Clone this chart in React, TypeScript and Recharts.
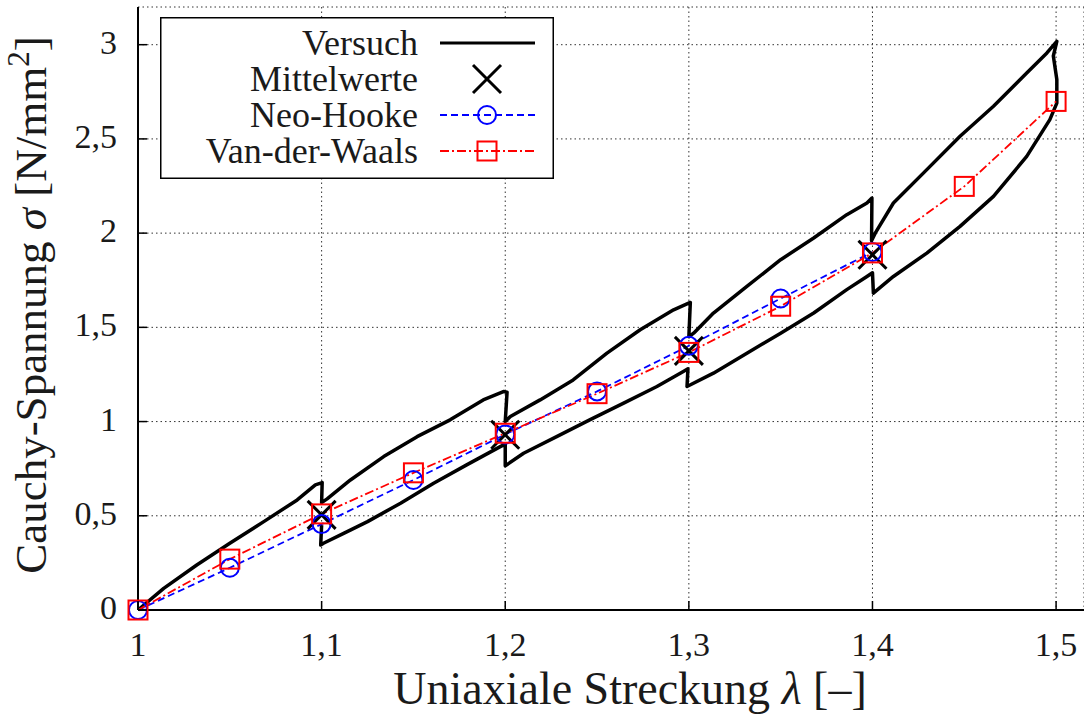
import React from 'react';
import { ComposedChart, Line, Scatter, XAxis, YAxis, CartesianGrid, Legend } from 'recharts';

// Versuch (experiment) path, in measurement order: [lambda, sigma]
const versuchPath: [number, number][] = [
  [1.0, 0.0], [1.014, 0.115], [1.032, 0.239], [1.05, 0.354], [1.0685, 0.469], [1.0867, 0.584], [1.0966, 0.664], [1.1003, 0.676],
  [1.1, 0.57], [1.103, 0.59], [1.1157, 0.69], [1.1338, 0.814], [1.152, 0.92], [1.17, 1.009], [1.188, 1.115], [1.199, 1.159], [1.201, 1.156],
  [1.2, 1.0], [1.2028, 1.027], [1.219, 1.115], [1.237, 1.221], [1.2554, 1.363], [1.2735, 1.487], [1.2917, 1.593], [1.3008, 1.632],
  [1.3, 1.45], [1.3026, 1.469], [1.3134, 1.576], [1.3316, 1.717], [1.35, 1.859], [1.368, 1.974], [1.386, 2.098], [1.397, 2.16], [1.3997, 2.186],
  [1.3995, 1.96], [1.4015, 2.0], [1.4114, 2.16], [1.4296, 2.337], [1.4477, 2.514], [1.4659, 2.673], [1.484, 2.85], [1.495, 2.956], [1.5004, 3.018],
  [1.4985, 2.94], [1.5004, 2.815], [1.5004, 2.69], [1.4966, 2.602], [1.484, 2.407], [1.4659, 2.195], [1.4477, 2.036], [1.4296, 1.894], [1.4114, 1.77], [1.4005, 1.682],
  [1.4, 1.79], [1.397, 1.77], [1.386, 1.7], [1.368, 1.576], [1.35, 1.469], [1.3316, 1.363], [1.3134, 1.257], [1.299, 1.186],
  [1.2995, 1.28], [1.297, 1.266], [1.2826, 1.186], [1.2645, 1.098], [1.246, 1.009], [1.228, 0.92], [1.21, 0.832], [1.2, 0.765],
  [1.2, 0.88], [1.1973, 0.867], [1.179, 0.77], [1.161, 0.673], [1.143, 0.567], [1.125, 0.469], [1.112, 0.407], [1.101, 0.354], [1.0995, 0.345],
  [1.1, 0.45],
];

// Mittelwerte (mean values)
const meanLambda = [1.1, 1.2, 1.3, 1.4];
const meanSigma = [0.505, 0.93, 1.375, 1.885];

// Neo-Hooke model
const neoLambda = [1.0, 1.05, 1.1, 1.15, 1.2, 1.25, 1.3, 1.35, 1.4];
const neoSigma = [0.0, 0.224, 0.456, 0.69, 0.932, 1.16, 1.402, 1.653, 1.9];

// Van-der-Waals model
const vdwLambda = [1.0, 1.05, 1.1, 1.15, 1.2, 1.25, 1.3, 1.35, 1.4, 1.45, 1.5];
const vdwSigma = [0.0, 0.27, 0.51, 0.728, 0.938, 1.148, 1.367, 1.612, 1.895, 2.248, 2.699];

const xTicks = [1, 1.1, 1.2, 1.3, 1.4, 1.5];
const yTicks = [0, 0.5, 1, 1.5, 2, 2.5, 3];

const versuchData = versuchPath.map(([x, y]) => ({ x, y }));
const meanData = meanLambda.map((x, i) => ({ x, y: meanSigma[i] }));
const neoData = neoLambda.map((x, i) => ({ x, y: neoSigma[i] }));
const vdwData = vdwLambda.map((x, i) => ({ x, y: vdwSigma[i] }));

const FONT = "Liberation Serif";
const TXT = '#1a1a1a';
const fmt = (v: number) => String(v).replace('.', ',');

const BottomTick = (props: any) => {
  const { x, y, payload } = props;
  return (
    <g>
      <line x1={x} y1={y} x2={x} y2={y - 9} stroke="#000" strokeWidth={1.5} />
      <text x={x} y={y + 46} textAnchor="middle" fontFamily={FONT} fontSize={34} fill={TXT}>
        {fmt(payload.value)}
      </text>
    </g>
  );
};

const TopTick = (props: any) => {
  const { x, y } = props;
  return <line x1={x} y1={y} x2={x} y2={y + 9} stroke="#000" strokeWidth={1.5} />;
};

const LeftTick = (props: any) => {
  const { x, y, payload } = props;
  return (
    <g>
      <line x1={x} y1={y} x2={x + 9} y2={y} stroke="#000" strokeWidth={1.5} />
      <text x={x - 21} y={y + 9} textAnchor="end" fontFamily={FONT} fontSize={34} fill={TXT}>
        {fmt(payload.value)}
      </text>
    </g>
  );
};

const XMark = (props: any) => {
  const { cx, cy } = props;
  const h = 14;
  return (
    <g>
      <line x1={cx - h} y1={cy - h} x2={cx + h} y2={cy + h} stroke="#000" strokeWidth={3} />
      <line x1={cx - h} y1={cy + h} x2={cx + h} y2={cy - h} stroke="#000" strokeWidth={3} />
    </g>
  );
};

const CircleDot = (props: any) => {
  const { cx, cy, index } = props;
  return <circle key={`c${index}`} cx={cx} cy={cy} r={9} stroke="#0000ff" strokeWidth={2} fill="none" />;
};

const SquareDot = (props: any) => {
  const { cx, cy, index } = props;
  return <rect key={`s${index}`} x={cx - 9.5} y={cy - 9.5} width={19} height={19} stroke="#ff0000" strokeWidth={2} fill="none" />;
};

const renderLegend = () => {
  const rows = [43, 79, 115, 151].map((v) => v - 17);
  const tx = 258;
  const l0 = 280;
  const l1 = 375;
  const mc = 327;
  return (
    <svg width={394} height={162} style={{ display: 'block' }}>
      <rect x={0.75} y={0.75} width={392.5} height={160.5} fill="#fff" stroke="#000" strokeWidth={1.5} />
      <text x={tx} y={rows[0] + 12} textAnchor="end" fontFamily={FONT} fontSize={36} fill={TXT}>Versuch</text>
      <line x1={l0} y1={rows[0]} x2={l1} y2={rows[0]} stroke="#000" strokeWidth={3} />
      <text x={tx} y={rows[1] + 12} textAnchor="end" fontFamily={FONT} fontSize={36} fill={TXT}>Mittelwerte</text>
      <line x1={mc - 14} y1={rows[1] - 14} x2={mc + 14} y2={rows[1] + 14} stroke="#000" strokeWidth={3} />
      <line x1={mc - 14} y1={rows[1] + 14} x2={mc + 14} y2={rows[1] - 14} stroke="#000" strokeWidth={3} />
      <text x={tx} y={rows[2] + 12} textAnchor="end" fontFamily={FONT} fontSize={36} fill={TXT}>Neo-Hooke</text>
      <line x1={l0} y1={rows[2]} x2={l1} y2={rows[2]} stroke="#0000ff" strokeWidth={1.8} strokeDasharray="7 4" />
      <circle cx={mc} cy={rows[2]} r={9} stroke="#0000ff" strokeWidth={2} fill="none" />
      <text x={tx} y={rows[3] + 12} textAnchor="end" fontFamily={FONT} fontSize={36} fill={TXT}>Van-der-Waals</text>
      <line x1={l0} y1={rows[3]} x2={l1} y2={rows[3]} stroke="#ff0000" strokeWidth={1.8} strokeDasharray="9 3 2 3" />
      <rect x={mc - 9.5} y={rows[3] - 9.5} width={19} height={19} stroke="#ff0000" strokeWidth={2} fill="none" />
    </svg>
  );
};

export default function App() {
  return (
    <div style={{ position: 'absolute', left: 0, top: 0, width: 1084, height: 720, background: '#fff' }}>
      <ComposedChart width={1084} height={720} margin={{ top: 7, right: 0, bottom: 0, left: 0 }}>
        <CartesianGrid stroke="#333" strokeWidth={1} strokeDasharray="1.5 3" />
        <XAxis
          xAxisId={0}
          type="number"
          dataKey="x"
          domain={[1, 1.5152]}
          ticks={xTicks}
          height={110}
          tickSize={0}
          tickMargin={0}
          tick={<BottomTick />}
          tickLine={false}
          axisLine={{ stroke: '#000', strokeWidth: 2 }}
          interval={0}
        />
        <XAxis
          xAxisId="top"
          orientation="top"
          type="number"
          dataKey="x"
          domain={[1, 1.5152]}
          ticks={xTicks}
          height={0}
          tickSize={0}
          tickMargin={0}
          tick={<TopTick />}
          tickLine={false}
          axisLine={{ stroke: '#000', strokeWidth: 2 }}
          interval={0}
        />
        <YAxis
          type="number"
          domain={[0, 3.2]}
          ticks={yTicks}
          width={138}
          tickSize={0}
          tickMargin={0}
          tick={<LeftTick />}
          tickLine={false}
          axisLine={{ stroke: '#000', strokeWidth: 2 }}
          interval={0}
        />
        <Line
          data={versuchData}
          dataKey="y"
          type="linear"
          stroke="#000"
          strokeWidth={3.5}
          strokeLinejoin="round"
          dot={false}
          activeDot={false}
          isAnimationActive={false}
          legendType="none"
        />
        <Scatter data={meanData} dataKey="y" shape={<XMark />} isAnimationActive={false} legendType="none" />
        <Line
          data={neoData}
          dataKey="y"
          type="linear"
          stroke="#0000ff"
          strokeWidth={1.8}
          strokeDasharray="7 4"
          dot={<CircleDot />}
          activeDot={false}
          isAnimationActive={false}
          legendType="none"
        />
        <Line
          data={vdwData}
          dataKey="y"
          type="linear"
          stroke="#ff0000"
          strokeWidth={1.8}
          strokeDasharray="9 3 2 3"
          dot={<SquareDot />}
          activeDot={false}
          isAnimationActive={false}
          legendType="none"
        />
        <Legend
          content={renderLegend}
          layout="vertical"
          align="center"
          verticalAlign="middle"
          wrapperStyle={{ left: 160, top: 17, width: 394, height: 162 }}
        />
        <text x={630} y={704} textAnchor="middle" fontFamily={FONT} fontSize={46} fill={TXT}>
          Uniaxiale Streckung <tspan fontStyle="italic">λ</tspan> [–]
        </text>
        <text x={46} y={305} transform="rotate(-90 46 305)" textAnchor="middle" fontFamily={FONT} fontSize={45} fill={TXT}>
          Cauchy-Spannung <tspan fontStyle="italic">σ</tspan> [N/mm<tspan fontSize={31} dy={-17}>2</tspan><tspan dy={17}>]</tspan>
        </text>
      </ComposedChart>
    </div>
  );
}
